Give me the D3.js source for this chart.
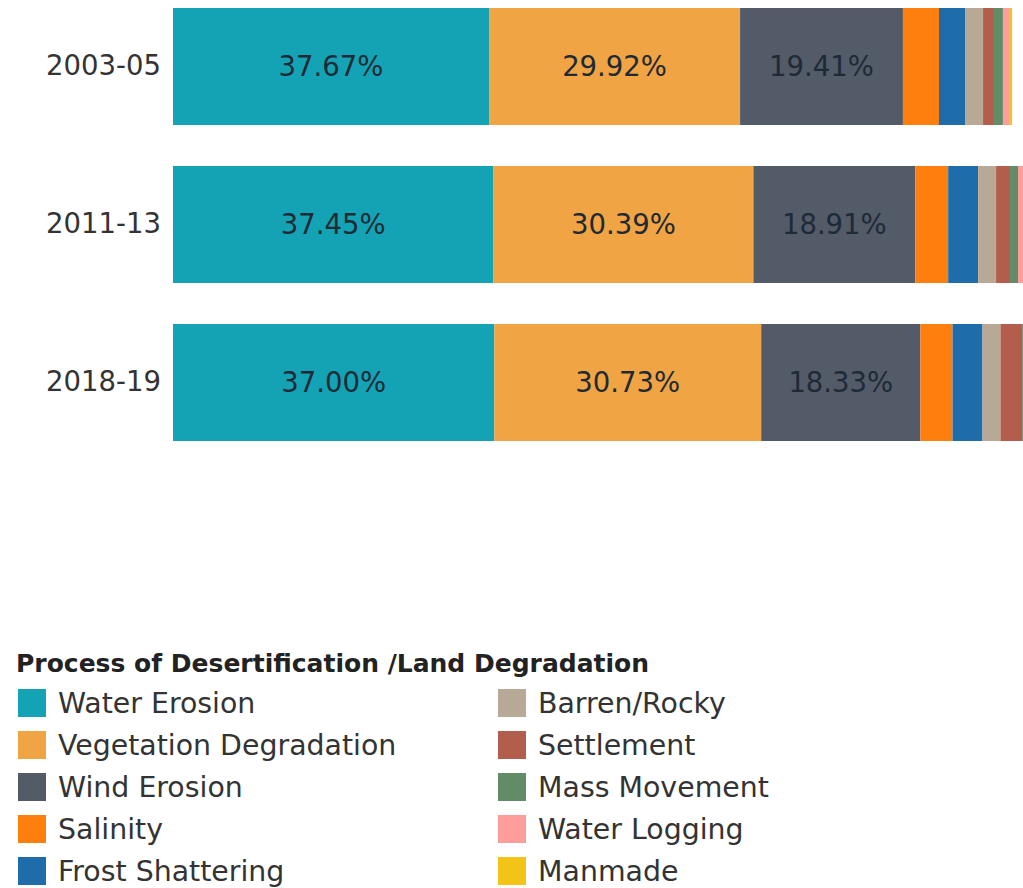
<!DOCTYPE html>
<html>
<head>
<meta charset="utf-8">
<script src="https://cdn.jsdelivr.net/npm/d3@7"></script>
<style>
  html, body { margin: 0; padding: 0; background: #fff; overflow: hidden; }
  svg { display: block; font-family: "DejaVu Sans", "Open Sans", sans-serif; }
</style>
</head>
<body>
<svg id="chart" width="1023" height="888"></svg>
<script>
// ---- Data ----
const periods = ["2003-05", "2011-13", "2018-19"];
// total area under desertification / land degradation (Mha) per period
const periodTotals = [94.53, 96.40, 97.85];
const processes = ["Water Erosion", "Vegetation Degradation", "Wind Erosion", "Salinity",
  "Frost Shattering", "Barren/Rocky", "Settlement", "Mass Movement", "Water Logging", "Manmade"];
// share (%) of each process per period
const waterErosion = [37.67, 37.45, 37.00];
const vegetationDegradation = [29.92, 30.39, 30.73];
const windErosion = [19.41, 18.91, 18.33];
const salinity = [4.30, 3.85, 3.70];
const frostShattering = [3.10, 3.50, 3.45];
const barrenRocky = [2.15, 2.10, 2.07];
const settlement = [1.30, 1.63, 2.50];
const massMovement = [1.07, 0.93, 0.90];
const waterLogging = [0.83, 0.95, 0.70];
const manmade = [0.25, 0.29, 0.62];
const colors = ["#13a3b4", "#f0a443", "#535a68", "#ff7f0e", "#1f6cab",
  "#b7a996", "#b35e4c", "#628c68", "#ff9d9a", "#f2c418"];

const seriesValues = [waterErosion, vegetationDegradation, windErosion, salinity, frostShattering,
  barrenRocky, settlement, massMovement, waterLogging, manmade];

// ---- Build table ----
const rows = periods.map((p, i) => {
  const r = { period: p, total: periodTotals[i] };
  processes.forEach((k, j) => { r[k] = seriesValues[j][i] * periodTotals[i] / 100; r[k + "_pct"] = seriesValues[j][i]; });
  return r;
});

const svg = d3.select("#chart");
const x = d3.scaleLinear().domain([0, 94.53]).range([173, 1012]);
const y = d3.scaleBand().domain(periods).range([8, 441]).paddingInner(41 / 158).paddingOuter(0);
const color = d3.scaleOrdinal().domain(processes).range(colors);

const stack = d3.stack().keys(processes);
const stacked = stack(rows);

const layers = svg.append("g").selectAll("g").data(stacked).join("g")
  .attr("fill", d => color(d.key));
layers.selectAll("rect").data(d => d.map(s => Object.assign(s, { key: d.key }))).join("rect")
  .attr("x", d => x(d[0]))
  .attr("y", d => y(d.data.period))
  .attr("width", d => Math.max(0, x(d[1]) - x(d[0])))
  .attr("height", y.bandwidth());

// labels on large segments
const labelData = [];
stacked.forEach(layer => layer.forEach(s => {
  const w = x(s[1]) - x(s[0]);
  if (w > 100) labelData.push({ cx: (x(s[0]) + x(s[1])) / 2, period: s.data.period, pct: s.data[layer.key + "_pct"] });
}));
svg.append("g").selectAll("text").data(labelData).join("text")
  .attr("x", d => d.cx)
  .attr("y", d => y(d.period) + y.bandwidth() / 2)
  .attr("dy", "0.35em")
  .attr("text-anchor", "middle")
  .attr("font-size", 27.5)
  .attr("fill", "#1e2a36")
  .text(d => d.pct.toFixed(2) + "%");

// y axis
const yAxis = d3.axisLeft(y).tickSize(0).tickPadding(0);
const gy = svg.append("g").attr("transform", "translate(161,0)").call(yAxis);
gy.select(".domain").remove();
gy.selectAll("text").attr("font-size", 27.5).attr("fill", "#333").attr("font-family", "DejaVu Sans, Open Sans, sans-serif");

// legend
const legend = svg.append("g");
legend.append("text").attr("x", 16).attr("y", 672).attr("font-size", 25).attr("font-weight", "bold")
  .attr("fill", "#222").text("Process of Desertification /Land Degradation");
const items = legend.selectAll("g.item").data(processes).join("g").attr("class", "item")
  .attr("transform", (d, i) => `translate(${i < 5 ? 18 : 498},${703 + (i % 5) * 42})`);
items.append("rect").attr("x", 0).attr("y", -14).attr("width", 28).attr("height", 28).attr("fill", d => color(d));
items.append("text").attr("x", 40).attr("y", 0).attr("dy", "0.35em").attr("font-size", 28.4)
  .attr("fill", "#333").text(d => d);
</script>
</body>
</html>
